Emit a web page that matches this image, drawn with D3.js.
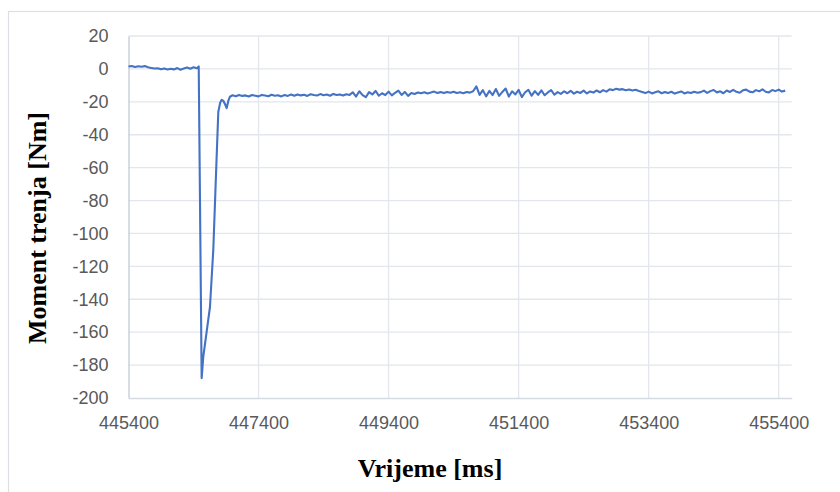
<!DOCTYPE html>
<html><head><meta charset="utf-8">
<script src="https://cdn.jsdelivr.net/npm/d3@7/dist/d3.min.js"></script>
<style>html,body{margin:0;padding:0;background:#fff;}svg{display:block;}</style>
</head><body>
<svg id="chart" width="840" height="492"></svg>
<script>
// ---- data ----
const xTicks = [445400, 447400, 449400, 451400, 453400, 455400];
const yTicks = [20, 0, -20, -40, -60, -80, -100, -120, -140, -160, -180, -200];
const xTitle = "Vrijeme [ms]";
const yTitle = "Moment trenja [Nm]";

const timeMs = [
445400,445450,445500,445550,445600,445650,445700,445750,445800,445850,445900,445950,446000,446050,446100,446150,446200,446250,446300,446350,446400,446450,446480,
446525,446550,446653,446704,446741,446781,446810,446833,446860,446885,446910,446935,446960,
447000,447050,447100,447150,447200,447250,447300,447350,447400,447450,447500,447550,447600,447650,447700,447750,447800,447850,
447900,447950,448000,448050,448100,448150,448200,448250,448300,448350,448400,448450,448500,448550,448600,448650,448700,448750,448800,
448850,448900,448950,449000,449050,449100,449150,449200,449250,449300,449350,449400,449450,449500,449550,449600,449650,449700,449750,449800,449850,
449900,449950,450000,450050,450100,450150,450200,450250,450300,450350,450400,450450,450500,450550,450600,450650,450700,450750,
450800,450850,450900,450950,451000,451050,451100,451150,451200,451250,451300,451350,451400,451450,451500,451550,451600,451650,451700,451750,451800,451850,451900,451950,452000,
452050,452100,452150,452200,452250,452300,452350,452400,452450,452500,452550,452600,452650,452700,452750,
452800,452850,452900,452950,453000,453050,453100,453150,453200,453250,
453300,453350,453400,453450,453500,453550,453600,453650,453700,453750,453800,453850,453900,453950,454000,454050,454100,454150,
454200,454250,454300,454350,454400,454450,454500,454550,454600,454650,454700,454750,454800,454850,454900,454950,455000,455050,455100,455150,455200,455250,455300,455350,455400,455450,455500
];
const momentNm = [
1.5,1.8,1.2,1.6,1.3,1.7,1.0,0.6,0.2,0.4,-0.2,0.3,-0.4,0.1,-0.3,0.5,-0.5,0.2,0.8,0.1,1.0,0.4,1.5,
-187.9,-175.0,-144.7,-110.0,-69.4,-26.2,-20.5,-18.8,-19.5,-21.5,-23.8,-19.5,-16.9,
-16.0,-16.6,-15.8,-16.4,-16.1,-16.8,-15.9,-16.3,-16.7,-15.8,-16.2,-16.6,-15.7,-16.3,-16.0,-16.7,-15.9,-16.4,
-15.6,-16.3,-15.5,-16.1,-15.7,-16.4,-15.4,-15.9,-16.2,-15.3,-16.0,-15.6,-16.3,-15.2,-15.9,-15.5,-16.2,-15.4,-15.8,
-14.2,-16.8,-13.6,-15.9,-17.2,-14.1,-15.5,-13.4,-16.3,-14.8,-15.9,-13.8,-16.1,-14.5,-13.2,-15.8,-14.0,-16.4,-14.6,-15.2,-14.3,
-14.8,-14.2,-14.9,-14.4,-13.8,-14.6,-14.1,-14.7,-14.0,-14.5,-13.9,-14.6,-14.2,-14.8,-14.0,-14.4,-13.6,-10.6,
-15.8,-12.9,-16.7,-13.4,-15.9,-12.2,-16.4,-14.0,-11.9,-16.8,-13.6,-15.5,-12.8,-17.1,-14.2,-12.7,-16.3,-13.5,-15.8,-13.1,-16.0,-14.3,-12.9,-15.7,-14.1,
-15.2,-13.6,-14.8,-13.3,-15.0,-13.9,-14.6,-13.2,-14.9,-13.7,-14.4,-13.1,-14.2,-12.9,-13.8,
-12.4,-12.9,-12.1,-12.6,-12.3,-13.0,-12.5,-13.1,-12.7,-13.4,
-14.0,-14.7,-13.8,-14.9,-14.2,-13.6,-14.8,-14.1,-14.6,-13.9,-15.0,-14.3,-13.7,-14.9,-14.2,-14.7,-13.9,-14.5,
-14.1,-13.2,-14.6,-13.5,-12.8,-14.3,-13.6,-14.8,-13.1,-14.0,-12.7,-13.9,-14.5,-13.0,-12.6,-13.8,-14.2,-12.9,-13.6,-12.4,-13.9,-14.3,-12.8,-13.5,-12.6,-13.8,-13.2
];

// ---- drawing ----
const svg = d3.select("#chart");
const plot = {left: 128.5, right: 791.7, top: 36, bottom: 398};

svg.append("rect").attr("x", 8.5).attr("y", 11.5).attr("width", 840).attr("height", 500)
  .attr("fill", "#fff").attr("stroke", "#dcdfe4").attr("stroke-width", 1.2);

const x = d3.scaleLinear().domain([445400, 455600]).range([plot.left, plot.right]);
const y = d3.scaleLinear().domain([-200, 20]).range([plot.bottom, plot.top]);

// grid
svg.append("g").selectAll("line").data(yTicks.filter(v => v !== -200)).join("line")
  .attr("x1", plot.left).attr("x2", plot.right)
  .attr("y1", d => y(d)).attr("y2", d => y(d))
  .attr("stroke", "#e3e6ec").attr("stroke-width", 1.3);
svg.append("g").selectAll("line").data(xTicks.filter(v => v !== 445400)).join("line")
  .attr("x1", d => x(d)).attr("x2", d => x(d))
  .attr("y1", plot.top).attr("y2", plot.bottom)
  .attr("stroke", "#e3e6ec").attr("stroke-width", 1.3);

// axes (plain hyphen minus as in the reference)
const plain = d => String(d);
const yAxis = d3.axisLeft(y).tickValues(yTicks).tickSize(0).tickPadding(20).tickFormat(plain);
const gy = svg.append("g").attr("transform", `translate(${plot.left},0)`).call(yAxis);
gy.select(".domain").attr("stroke", "#c3cad6").attr("stroke-width", 1.3);
gy.selectAll("text").attr("font-family", "'Liberation Sans', Arial, sans-serif")
  .attr("font-size", 18).attr("fill", "#595959");

const xAxis = d3.axisBottom(x).tickValues(xTicks).tickSize(0).tickPadding(18).tickFormat(plain);
const gx = svg.append("g").attr("transform", `translate(0,${plot.bottom})`).call(xAxis);
gx.select(".domain").attr("stroke", "#d6dae2").attr("stroke-width", 1.3);
gx.selectAll("text").attr("font-family", "'Liberation Sans', Arial, sans-serif")
  .attr("font-size", 18).attr("fill", "#595959");

// line
const pts = timeMs.map((t, i) => [t, momentNm[i]]);
svg.append("path").datum(pts)
  .attr("fill", "none").attr("stroke", "#4472c4").attr("stroke-width", 2.1)
  .attr("stroke-linejoin", "round")
  .attr("d", d3.line().x(d => x(d[0])).y(d => y(d[1])));

// titles
svg.append("text").attr("x", 430).attr("y", 468)
  .attr("text-anchor", "middle").attr("dominant-baseline", "central")
  .attr("font-family", "'Liberation Serif', 'Times New Roman', serif").attr("font-weight", "bold")
  .attr("font-size", 26).attr("fill", "#000").text(xTitle);
svg.append("text").attr("transform", "translate(37,228) rotate(-90)")
  .attr("text-anchor", "middle").attr("dominant-baseline", "central")
  .attr("font-family", "'Liberation Serif', 'Times New Roman', serif").attr("font-weight", "bold")
  .attr("font-size", 26).attr("fill", "#000").text(yTitle);
</script>
</body></html>
